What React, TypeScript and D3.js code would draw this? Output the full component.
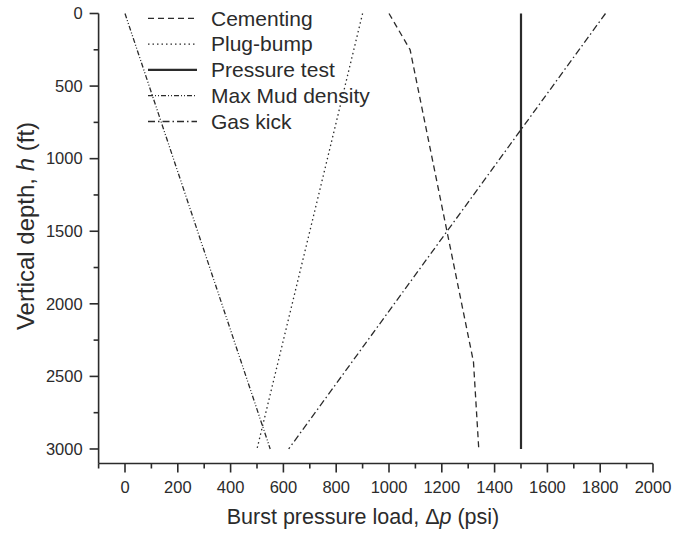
import React from "react";
import * as d3 from "d3";

type Pt = [number, number];

const cementing: Pt[] = [[1000, 0], [1080, 250], [1320, 2400], [1340, 3000]];
const plugBump: Pt[] = [[900, 0], [500, 3000]];
const pressureTest: Pt[] = [[1500, 0], [1500, 3000]];
const maxMudDensity: Pt[] = [[0, 0], [550, 3000]];
const gasKick: Pt[] = [[1820, 0], [620, 3000]];

const seriesNames = ["Cementing", "Plug-bump", "Pressure test", "Max Mud density", "Gas kick"];
const seriesData = [cementing, plugBump, pressureTest, maxMudDensity, gasKick];
const seriesDash = ["6,4", "1.5,3", "", "5,2,1,2,1,2", "7,3,1.5,3"];
const seriesWidth = [1.3, 1.3, 2.2, 1.3, 1.3];

const xMajorTicks = [0, 200, 400, 600, 800, 1000, 1200, 1400, 1600, 1800, 2000];
const xMinorTicks = [-100, 100, 300, 500, 700, 900, 1100, 1300, 1500, 1700, 1900];
const yMajorTicks = [0, 500, 1000, 1500, 2000, 2500, 3000];
const yMinorTicks = [250, 750, 1250, 1750, 2250, 2750];

const FONT = "'Liberation Sans', Arial, Helvetica, sans-serif";
const INK = "#2b2b2b";

export default function App() {
  const W = 673, H = 537;
  const x = d3.scaleLinear().domain([-100, 2000]).range([98.6, 653]);
  const y = d3.scaleLinear().domain([0, 3100]).range([13.5, 463.5]);
  const line = d3.line<Pt>().x(d => x(d[0])).y(d => y(d[1]));
  const x0 = x(-100), y0 = y(3100);

  return (
    <svg width={W} height={H} style={{ position: "absolute", left: 0, top: 0, background: "#fff" }} fontFamily={FONT}>
      {seriesData.map((d, i) => (
        <path key={i} d={line(d) || ""} fill="none" stroke={INK} strokeWidth={seriesWidth[i]}
          strokeDasharray={seriesDash[i] || undefined} />
      ))}
      {/* axes */}
      <line x1={x0} x2={x(2000)} y1={y0} y2={y0} stroke={INK} strokeWidth={1.6} />
      <line x1={x0} x2={x0} y1={y(0)} y2={y0} stroke={INK} strokeWidth={1.6} />
      {xMajorTicks.map(t => (
        <g key={"xm" + t}>
          <line x1={x(t)} x2={x(t)} y1={y0} y2={y0 + 9} stroke={INK} strokeWidth={1.6} />
          <text x={x(t)} y={y0 + 29} textAnchor="middle" fontSize={16.5} fill={INK}>{t}</text>
        </g>
      ))}
      {xMinorTicks.map(t => (
        <line key={"xn" + t} x1={x(t)} x2={x(t)} y1={y0} y2={y0 + 5} stroke={INK} strokeWidth={1.6} />
      ))}
      {yMajorTicks.map(t => (
        <g key={"ym" + t}>
          <line x1={x0 - 9} x2={x0} y1={y(t)} y2={y(t)} stroke={INK} strokeWidth={1.6} />
          <text x={x0 - 16} y={y(t)} dy="0.35em" textAnchor="end" fontSize={16.5} fill={INK}>{t}</text>
        </g>
      ))}
      {yMinorTicks.map(t => (
        <line key={"yn" + t} x1={x0 - 5} x2={x0} y1={y(t)} y2={y(t)} stroke={INK} strokeWidth={1.6} />
      ))}
      {/* axis titles */}
      <text x={363} y={524} textAnchor="middle" fontSize={21.5} fill={INK}>
        Burst pressure load, <tspan>Δ</tspan><tspan fontStyle="italic">p</tspan> (psi)
      </text>
      <text transform="translate(34,226) rotate(-90)" textAnchor="middle" fontSize={24} fill={INK}>
        Vertical depth, <tspan fontStyle="italic">h</tspan> (ft)
      </text>
      {/* legend */}
      {seriesNames.map((n, i) => {
        const ly = 18.3 + i * 25.8;
        return (
          <g key={"lg" + i}>
            <line x1={148} x2={197} y1={ly} y2={ly} stroke={INK} strokeWidth={seriesWidth[i]}
              strokeDasharray={seriesDash[i] || undefined} />
            <text x={211} y={ly} dy="0.35em" fontSize={21} fill={INK}>{n}</text>
          </g>
        );
      })}
    </svg>
  );
}
